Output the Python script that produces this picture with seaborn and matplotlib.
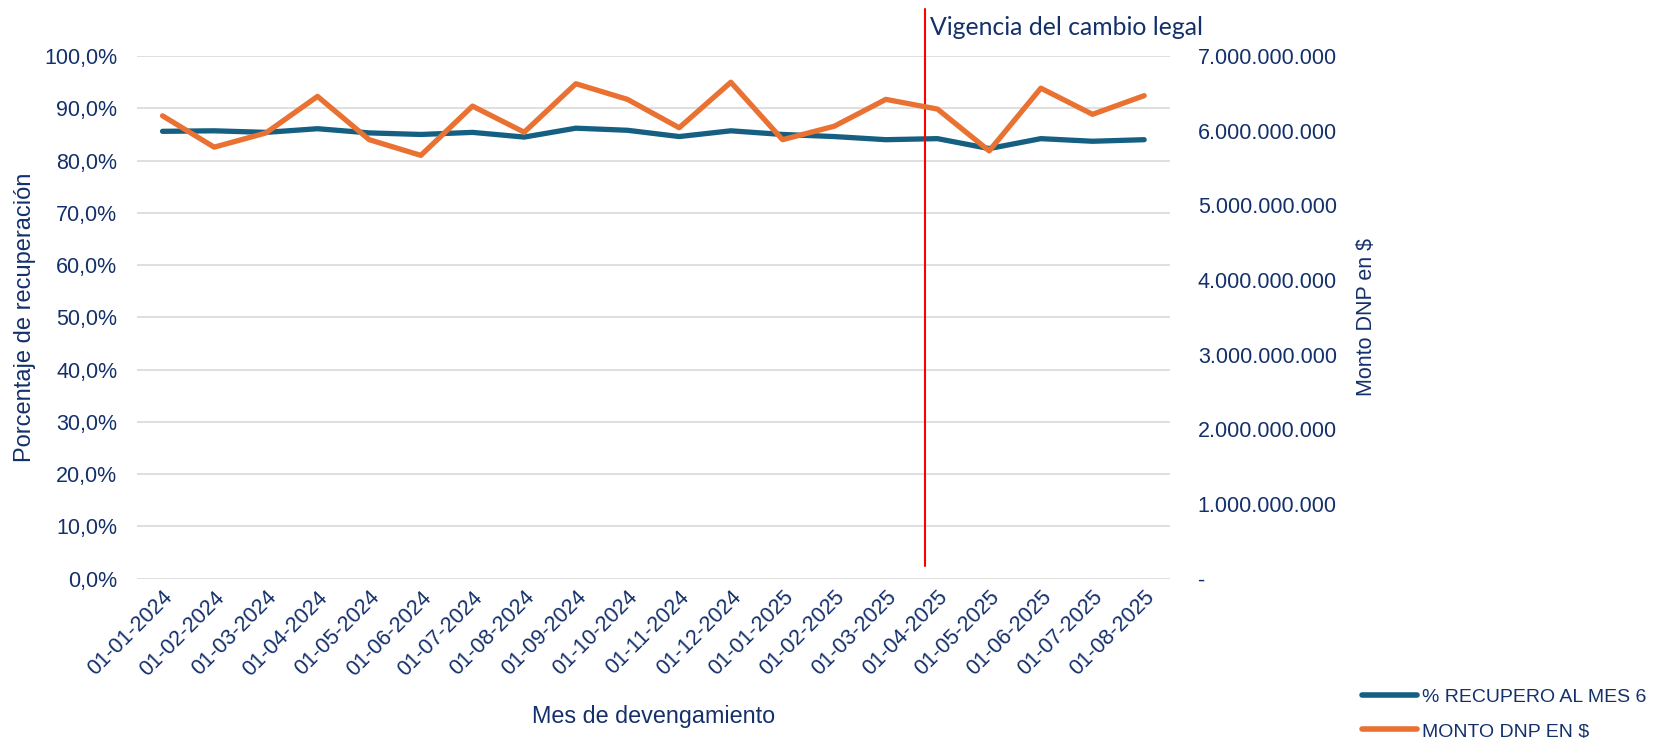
import numpy as np
import pandas as pd
import matplotlib.pyplot as plt
import matplotlib.transforms as mtransforms
from matplotlib.ticker import FuncFormatter, MultipleLocator
from matplotlib.lines import Line2D
import seaborn as sns

sns.set_style("white")
plt.rcParams["font.family"] = ["Liberation Sans", "DejaVu Sans"]

# Data
months = ["01-01-2024", "01-02-2024", "01-03-2024", "01-04-2024", "01-05-2024",
          "01-06-2024", "01-07-2024", "01-08-2024", "01-09-2024", "01-10-2024",
          "01-11-2024", "01-12-2024", "01-01-2025", "01-02-2025", "01-03-2025",
          "01-04-2025", "01-05-2025", "01-06-2025", "01-07-2025", "01-08-2025"]
recupero = [85.6, 85.7, 85.4, 86.1, 85.3, 85.0, 85.4, 84.5, 86.2, 85.8,
            84.6, 85.7, 85.0, 84.6, 84.0, 84.2, 82.3, 84.2, 83.7, 84.0]
monto = [6.20e9, 5.78e9, 5.97e9, 6.46e9, 5.88e9, 5.67e9, 6.33e9, 5.98e9, 6.63e9, 6.42e9,
         6.04e9, 6.65e9, 5.88e9, 6.06e9, 6.42e9, 6.29e9, 5.73e9, 6.57e9, 6.22e9, 6.47e9]
cambio_legal_pos = 14.75

df = pd.DataFrame({"mes": months, "recupero": recupero, "monto": monto})

text_color = "#14306B"
blue = "#156082"
orange = "#E97132"
fs = 15.5

fig = plt.figure(figsize=(16.61, 7.38), dpi=100)
ax = fig.add_axes([0.0823, 0.216, 0.6221, 0.708])
ax2 = ax.twinx()

sns.lineplot(data=df, x="mes", y="recupero", ax=ax, color=blue, linewidth=3.8,
             sort=False, solid_capstyle="round", solid_joinstyle="round")
sns.lineplot(data=df, x="mes", y="monto", ax=ax2, color=orange, linewidth=3.8,
             sort=False, solid_capstyle="round", solid_joinstyle="round")

# left axis
ax.set_ylim(0, 100)
ax.set_xlim(-0.5, len(months) - 0.5)
ax.yaxis.set_major_locator(MultipleLocator(10))
ax.yaxis.set_major_formatter(FuncFormatter(lambda v, p: f"{v:.1f}%".replace(".", ",")))
ax.grid(axis="y", color="#D9D9D9", linewidth=1.2)
ax.set_axisbelow(True)
ax.set_ylabel("Porcentaje de recuperación", fontsize=17, color=text_color, labelpad=5.5)
ax.set_xlabel("Mes de devengamiento", fontsize=16.8, color=text_color, labelpad=18)
ax.tick_params(axis="y", length=0, pad=14, labelsize=fs, labelcolor=text_color)
ax.tick_params(axis="x", length=0, pad=6, labelsize=fs, labelcolor=text_color)
plt.setp(ax.get_xticklabels(), rotation=45, ha="right", rotation_mode="anchor")

# right axis
ax2.set_ylim(0, 7e9)
ax2.yaxis.set_major_locator(MultipleLocator(1e9))


def fmt_monto(v, p):
    if v == 0:
        return "-"
    return f"{v:,.0f}".replace(",", ".")


ax2.yaxis.set_major_formatter(FuncFormatter(fmt_monto))
ax2.tick_params(axis="y", length=0, pad=20, labelsize=fs, labelcolor=text_color)
ax2.set_ylabel("Monto DNP en $", fontsize=fs, color=text_color, labelpad=14)

for a in (ax, ax2):
    for s in a.spines.values():
        s.set_visible(False)

# vertical line for legal change
ax.axvline(cambio_legal_pos, ymin=0.024, ymax=1.09, color="red", linewidth=1.5, clip_on=False)
trans = mtransforms.blended_transform_factory(ax.transData, ax.transAxes)
ax.annotate("Vigencia del cambio legal", xy=(cambio_legal_pos, 1.040), xycoords=trans,
            xytext=(4, 0), textcoords="offset points", ha="left", va="baseline",
            fontsize=17.8, color=text_color, family=["Lato", "DejaVu Sans"])

# legend
handles = [Line2D([0], [0], color=blue, linewidth=4, solid_capstyle="round"),
           Line2D([0], [0], color=orange, linewidth=4, solid_capstyle="round")]
fig.legend(handles, ["% RECUPERO AL MES 6", "MONTO DNP EN $"], loc="lower left",
           bbox_to_anchor=(0.820, -0.003), frameon=False, fontsize=14,
           labelcolor=text_color, handlelength=2.83, handletextpad=0.26,
           labelspacing=0.84, borderpad=0, borderaxespad=0)

fig.savefig("out.png", dpi=100)
